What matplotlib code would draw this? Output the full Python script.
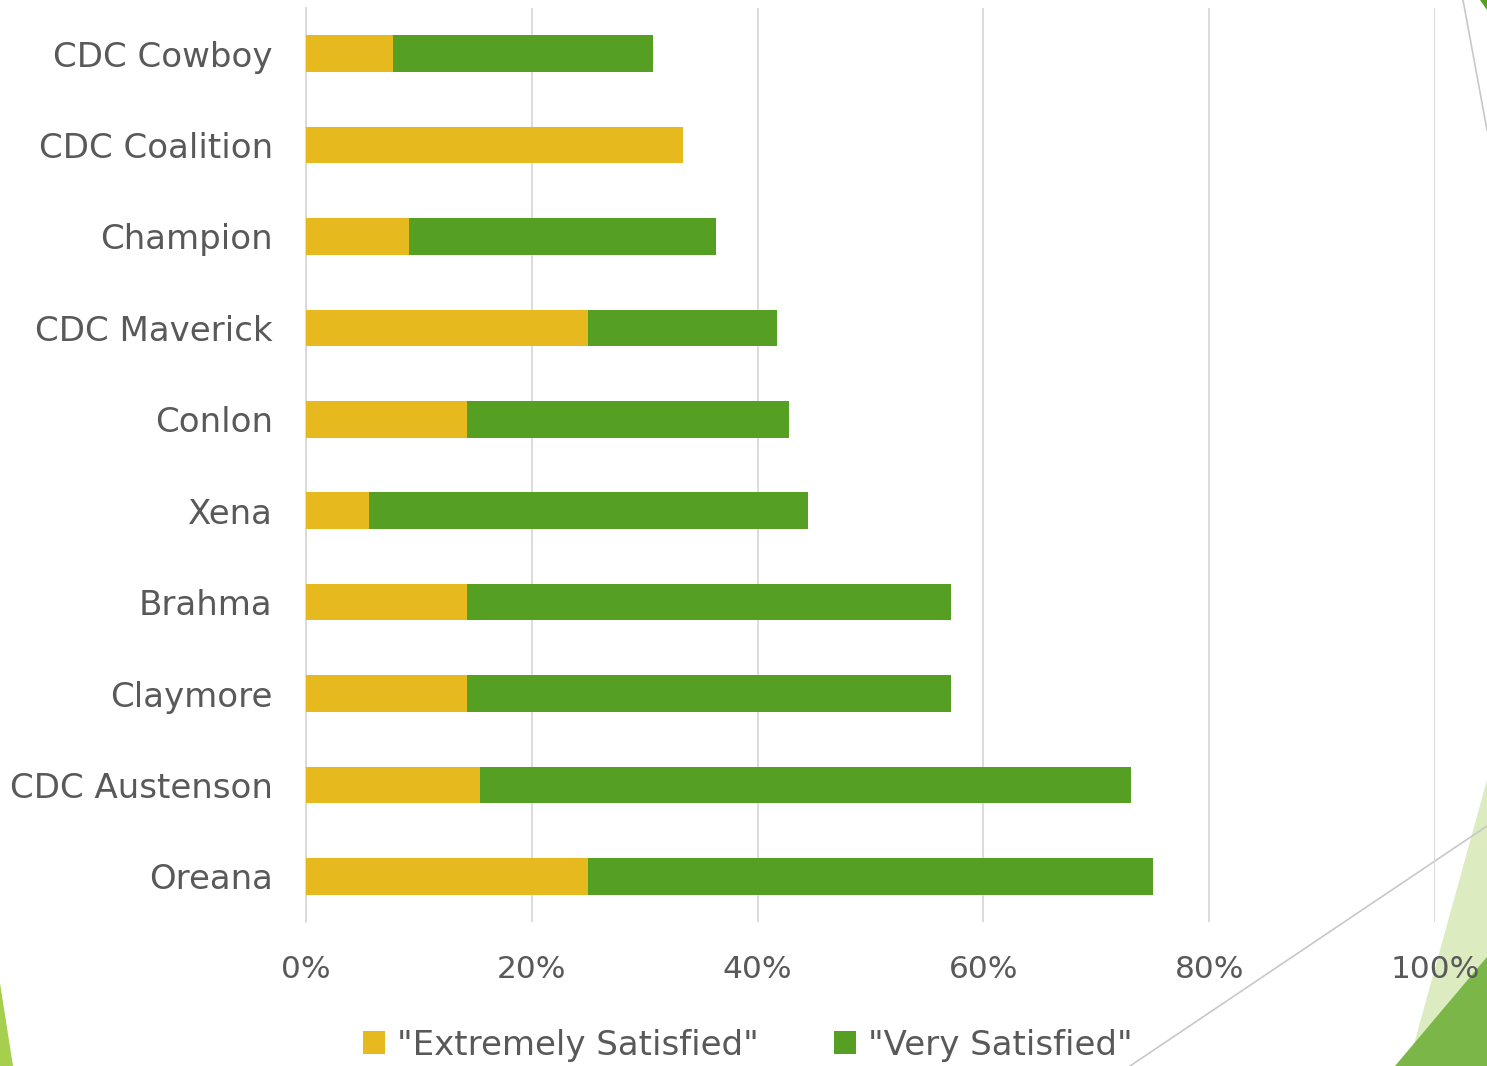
import matplotlib.pyplot as plt
from matplotlib.patches import Polygon
from matplotlib.lines import Line2D
import numpy as np

# данные (сверху вниз, как на картинке; ось Y инвертируем)
varieties = ['CDC Cowboy', 'CDC Coalition', 'Champion', 'CDC Maverick', 'Conlon',
             'Xena', 'Brahma', 'Claymore', 'CDC Austenson', 'Oreana']
extremely = [7.7, 33.4, 9.1, 25.0, 14.3, 5.6, 14.3, 14.3, 15.4, 25.0]
very = [23.0, 0.0, 27.2, 16.7, 28.5, 38.9, 42.8, 42.8, 57.7, 50.0]
xticks = [0, 20, 40, 60, 80, 100]
legend_labels = ['"Extremely Satisfied"', '"Very Satisfied"']

yellow = '#E6B91E'
green = '#55A023'
text_col = '#595959'

plt.rcParams['font.family'] = ['DejaVu Sans']

W, H = 1487, 1066
fig = plt.figure(figsize=(W / 100, H / 100), dpi=100)

# оси в пикселях картинки
left, right, top, bottom = 306, 1435, 8, 922
ax = fig.add_axes([left / W, 1 - bottom / H, (right - left) / W, (bottom - top) / H], zorder=2)

y = np.arange(len(varieties))
b1 = ax.barh(y, extremely, height=0.4, color=yellow, label=legend_labels[0], zorder=3)
b2 = ax.barh(y, very, left=extremely, height=0.4, color=green, label=legend_labels[1], zorder=3)

ax.set_ylim(len(varieties) - 0.5, -0.5)
ax.set_xlim(0, 100)
ax.set_xticks(xticks)
ax.set_xticklabels([f'{t}%' for t in xticks])
ax.set_yticks(y)
ax.set_yticklabels(varieties)
ax.tick_params(axis='y', length=0, pad=24, labelsize=24.5, labelcolor=text_col)
ax.tick_params(axis='x', length=0, pad=24, labelsize=22.5, labelcolor=text_col)
ax.grid(axis='x', color='#D9D9D9', linewidth=1.3, zorder=0)
for s in ['top', 'right', 'bottom']:
    ax.spines[s].set_visible(False)
ax.spines['left'].set_color('#D9D9D9')
ax.spines['left'].set_linewidth(1.3)
ax.set_facecolor('none')

leg = fig.legend(handles=[b1, b2], labels=legend_labels, loc='center', bbox_to_anchor=(748 / W, 1 - 1045 / H),
                 ncol=2, frameon=False, fontsize=24.5, labelcolor=text_col, handlelength=0.65, handleheight=0.65,
                 handletextpad=0.35, columnspacing=2.2)
leg.set_zorder(3)

# декоративные уголки слайда (в пикселях -> доли фигуры)
def pts(lst):
    return [(px / W, 1 - py / H) for px, py in lst]

fig.patches.append(Polygon(pts([(1487, 780), (1487, 1066), (1408, 1066)]), closed=True,
                           facecolor='#DCEBC0', edgecolor='none', transform=fig.transFigure, zorder=-2))
fig.patches.append(Polygon(pts([(1487, 957), (1487, 1066), (1395, 1066)]), closed=True,
                           facecolor='#7AB648', edgecolor='none', transform=fig.transFigure, zorder=-1))
fig.patches.append(Polygon(pts([(0, 983), (13, 1066), (0, 1066)]), closed=True,
                           facecolor='#A5CF4C', edgecolor='none', transform=fig.transFigure, zorder=-1))
fig.patches.append(Polygon(pts([(1480, 0), (1487, 0), (1487, 10)]), closed=True,
                           facecolor='#55A023', edgecolor='none', transform=fig.transFigure, zorder=-1))
for (x0, y0), (x1, y1) in [((1130, 1066), (1487, 826)), ((1463, 0), (1487, 130))]:
    (a, b), (c, d) = pts([(x0, y0), (x1, y1)])
    fig.add_artist(Line2D([a, c], [b, d], color='#C8C8C8', linewidth=1.2, transform=fig.transFigure, zorder=-1))

fig.savefig('out.png', dpi=100)
